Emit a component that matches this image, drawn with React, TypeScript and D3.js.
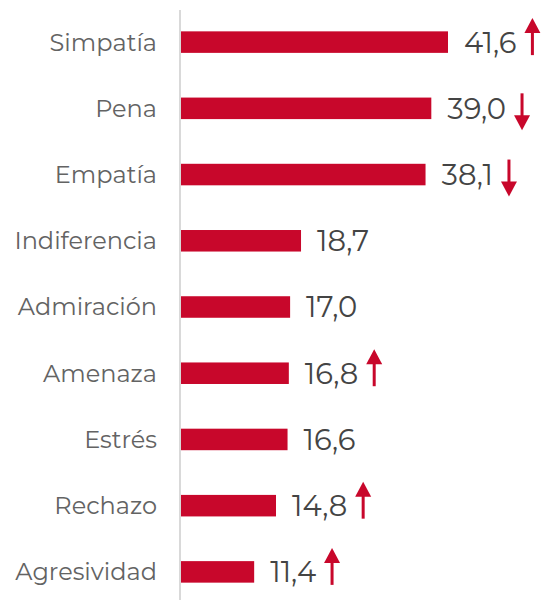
import React, { useEffect, useRef } from "react";
import * as d3 from "d3";

const categories = ["Simpatía", "Pena", "Empatía", "Indiferencia", "Admiración", "Amenaza", "Estrés", "Rechazo", "Agresividad"];
const values = [41.6, 39.0, 38.1, 18.7, 17.0, 16.8, 16.6, 14.8, 11.4];
const trends = ["up", "down", "down", null, null, "up", null, "up", "up"];

const width = 546;
const height = 600;
const red = "#c8072b";

export default function App() {
  const ref = useRef<SVGSVGElement>(null);

  useEffect(() => {
    const svg = d3.select(ref.current);
    svg.selectAll("*").remove();

    const font = "Montserrat, 'Open Sans', sans-serif";
    const x0 = 181;

    const x = d3.scaleLinear().domain([0, 41.6]).range([x0, 448]);
    const y = d3.scaleBand<string>()
      .domain(categories)
      .range([9, 605])
      .paddingInner(0.675)
      .paddingOuter(0.3375);

    // axis line
    svg.append("line")
      .attr("x1", 180).attr("x2", 180)
      .attr("y1", 10).attr("y2", height)
      .attr("stroke", "#d9d9d9")
      .attr("stroke-width", 2);

    // category labels
    svg.selectAll(".lab")
      .data(categories)
      .enter().append("text")
      .attr("class", "lab")
      .attr("x", 157)
      .attr("y", d => y(d)! + y.bandwidth() / 2)
      .attr("dy", "0.35em")
      .attr("text-anchor", "end")
      .attr("font-family", font)
      .attr("font-size", 24)
      .attr("fill", "#636363")
      .text(d => d);

    // bars
    svg.selectAll(".bar")
      .data(values)
      .enter().append("rect")
      .attr("class", "bar")
      .attr("x", x0)
      .attr("y", (d, i) => y(categories[i])!)
      .attr("width", d => x(d) - x0)
      .attr("height", y.bandwidth())
      .attr("fill", red);

    // value labels + trend arrows
    values.forEach((v, i) => {
      const cy = y(categories[i])! + y.bandwidth() / 2;
      const t = svg.append("text")
        .attr("x", x(v) + 16)
        .attr("y", cy)
        .attr("dy", "0.36em")
        .attr("font-family", font)
        .attr("font-size", 29)
        .attr("fill", "#444444")
        .text(d3.format(".1f")(v).replace(".", ","));
      const end = x(v) + 16 + (t.node() as SVGTextElement).getComputedTextLength();
      const tr = trends[i];
      if (!tr) return;
      const ax = end + 16;
      const g = svg.append("g").attr("fill", red).attr("stroke", red);
      if (tr === "up") {
        const top = cy - 24, bot = cy + 13;
        g.append("line").attr("x1", ax).attr("x2", ax).attr("y1", top + 10).attr("y2", bot).attr("stroke-width", 3);
        g.append("path").attr("stroke", "none")
          .attr("d", `M${ax},${top} L${ax + 8},${top + 15} L${ax - 8},${top + 15} Z`);
      } else {
        const top = cy - 15, bot = cy + 22;
        g.append("line").attr("x1", ax).attr("x2", ax).attr("y1", top).attr("y2", bot - 10).attr("stroke-width", 3);
        g.append("path").attr("stroke", "none")
          .attr("d", `M${ax},${bot} L${ax + 8},${bot - 15} L${ax - 8},${bot - 15} Z`);
      }
    });
  }, []);

  return (
    <svg ref={ref} width={width} height={height} style={{ position: "absolute", left: 0, top: 0 }} />
  );
}
